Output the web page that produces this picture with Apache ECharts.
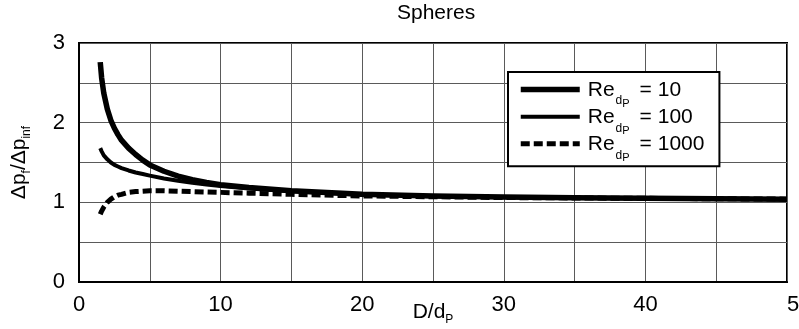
<!DOCTYPE html>
<html>
<head>
<meta charset="utf-8">
<script src="https://cdn.jsdelivr.net/npm/echarts@6/dist/echarts.min.js"></script>
<style>html,body{margin:0;padding:0;background:#fff;}#c{width:799px;height:329px;}</style>
</head>
<body>
<div id="c"></div>
<script>
// D/d_P values
var ratioX = [1.5, 1.6, 1.75, 2, 2.25, 2.5, 2.75, 3, 3.5, 4, 4.5, 5, 6, 7, 8, 9, 10, 12, 15, 20, 25, 30, 35, 40, 45, 50];
// Δp_f/Δp_inf for Re_dP = 10
var re10 = [2.76, 2.56, 2.37, 2.17, 2.03, 1.93, 1.85, 1.78, 1.68, 1.60, 1.53, 1.47, 1.39, 1.33, 1.285, 1.25, 1.22, 1.185, 1.145, 1.10, 1.08, 1.067, 1.058, 1.05, 1.045, 1.04];
// Re_dP = 100
var re100 = [1.68, 1.64, 1.59, 1.54, 1.50, 1.47, 1.45, 1.43, 1.40, 1.375, 1.355, 1.335, 1.30, 1.27, 1.245, 1.225, 1.205, 1.175, 1.14, 1.095, 1.075, 1.063, 1.055, 1.05, 1.045, 1.04];
// Re_dP = 1000
var re1000 = [0.85, 0.89, 0.94, 1.00, 1.04, 1.07, 1.09, 1.10, 1.125, 1.135, 1.14, 1.145, 1.145, 1.14, 1.135, 1.13, 1.125, 1.115, 1.10, 1.08, 1.07, 1.06, 1.055, 1.05, 1.045, 1.04];
var reLabels = ['10', '100', '1000'];
var xTicks = [0, 10, 20, 30, 40, 50];
var yTicks = [0, 1, 2, 3];

var FONT = '"Liberation Sans", Arial, sans-serif';
function pairs(ys) { return ratioX.map(function (x, i) { return [x, ys[i]]; }); }

var chart = echarts.init(document.getElementById('c'), null, { renderer: 'canvas' });
var seriesData = [re10, re100, re1000];
var widths = [5.5, 4, 5];
var types = ['solid', 'solid', [9, 4]];

chart.setOption({
  animation: false,
  backgroundColor: '#fff',
  title: {
    text: 'Spheres', left: 397, top: 3, padding: 0,
    textStyle: { fontSize: 21, fontWeight: 'normal', color: '#000', fontFamily: FONT }
  },
  grid: { left: 79, right: 12, top: 43, bottom: 47, show: true, borderColor: '#000', borderWidth: 2, backgroundColor: 'transparent', outerBoundsMode: 'none', containLabel: false },
  legend: {
    orient: 'vertical', left: 508, top: 72,
    padding: [2, 15, 3, 10],
    itemWidth: 59, itemHeight: 39, itemGap: -8,
    borderColor: '#000', borderWidth: 2, backgroundColor: '#fff',
    itemStyle: { opacity: 0, borderWidth: 0 },
    data: reLabels.map(function (r, i) {
      return { name: 'Re = ' + r, lineStyle: { width: widths[i], type: types[i], color: '#000' } };
    }),
    formatter: function (name) { return '{r|Re}{d|d}{p|P}{e|= ' + name.split('= ')[1] + '}'; },
    textStyle: {
      color: '#000', fontFamily: FONT,
      rich: {
        r: { fontSize: 21, fontFamily: FONT, color: '#000', verticalAlign: 'top', padding: [9.5, 0, 0, 3] },
        d: { fontSize: 12, fontFamily: FONT, color: '#000', verticalAlign: 'top', padding: [25, 0, 0, 1] },
        p: { fontSize: 11, fontFamily: FONT, color: '#000', verticalAlign: 'top', padding: [28, 0, 0, 0] },
        e: { fontSize: 21, fontFamily: FONT, color: '#000', verticalAlign: 'top', padding: [9.5, 0, 0, 10] }
      }
    }
  },
  xAxis: {
    type: 'value', min: xTicks[0], max: xTicks[xTicks.length - 1], interval: 10,
    name: '{m|D/d}{s|P}', nameLocation: 'middle', nameGap: 20, nameMoveOverlap: false,
    nameTextStyle: {
      rich: {
        m: { fontSize: 21, fontFamily: FONT, color: '#000', verticalAlign: 'top' },
        s: { fontSize: 12, fontFamily: FONT, color: '#000', verticalAlign: 'top', padding: [12, 0, 0, 0] }
      }
    },
    axisLine: { show: true, lineStyle: { color: '#000', width: 2 } },
    axisTick: { show: false },
    axisLabel: { fontSize: 22, color: '#000', fontFamily: FONT, margin: 12, alignMaxLabel: 'left' },
    splitLine: { show: true, lineStyle: { color: '#5a5a5a', width: 1 } },
    minorTick: { show: false, splitNumber: 2 },
    minorSplitLine: { show: true, lineStyle: { color: '#5a5a5a', width: 1 } }
  },
  yAxis: {
    type: 'value', min: yTicks[0], max: yTicks[yTicks.length - 1], interval: 1,
    name: '{m|Δp}{s|f}{m|/Δp}{s|inf}', nameLocation: 'middle', nameRotate: 90, nameGap: 46, nameMoveOverlap: false,
    nameTextStyle: {
      rich: {
        m: { fontSize: 21, fontFamily: FONT, color: '#000', verticalAlign: 'top' },
        s: { fontSize: 12, fontFamily: FONT, color: '#000', verticalAlign: 'top', padding: [12, 0, 0, 0] }
      }
    },
    axisLine: { show: true, lineStyle: { color: '#000', width: 2 } },
    axisTick: { show: false },
    axisLabel: { fontSize: 22, color: '#000', fontFamily: FONT, margin: 14 },
    splitLine: { show: true, lineStyle: { color: '#5a5a5a', width: 1 } },
    minorTick: { show: false, splitNumber: 2 },
    minorSplitLine: { show: true, lineStyle: { color: '#5a5a5a', width: 1 } }
  },
  series: seriesData.map(function (ys, i) {
    return {
      name: 'Re = ' + reLabels[i], type: 'line', data: pairs(ys), symbol: 'none',
      smooth: false,
      color: '#000',
      lineStyle: { color: '#000', width: widths[i], type: types[i], cap: 'butt', join: 'round' },
      z: 3 + i
    };
  })
});
</script>
</body>
</html>
